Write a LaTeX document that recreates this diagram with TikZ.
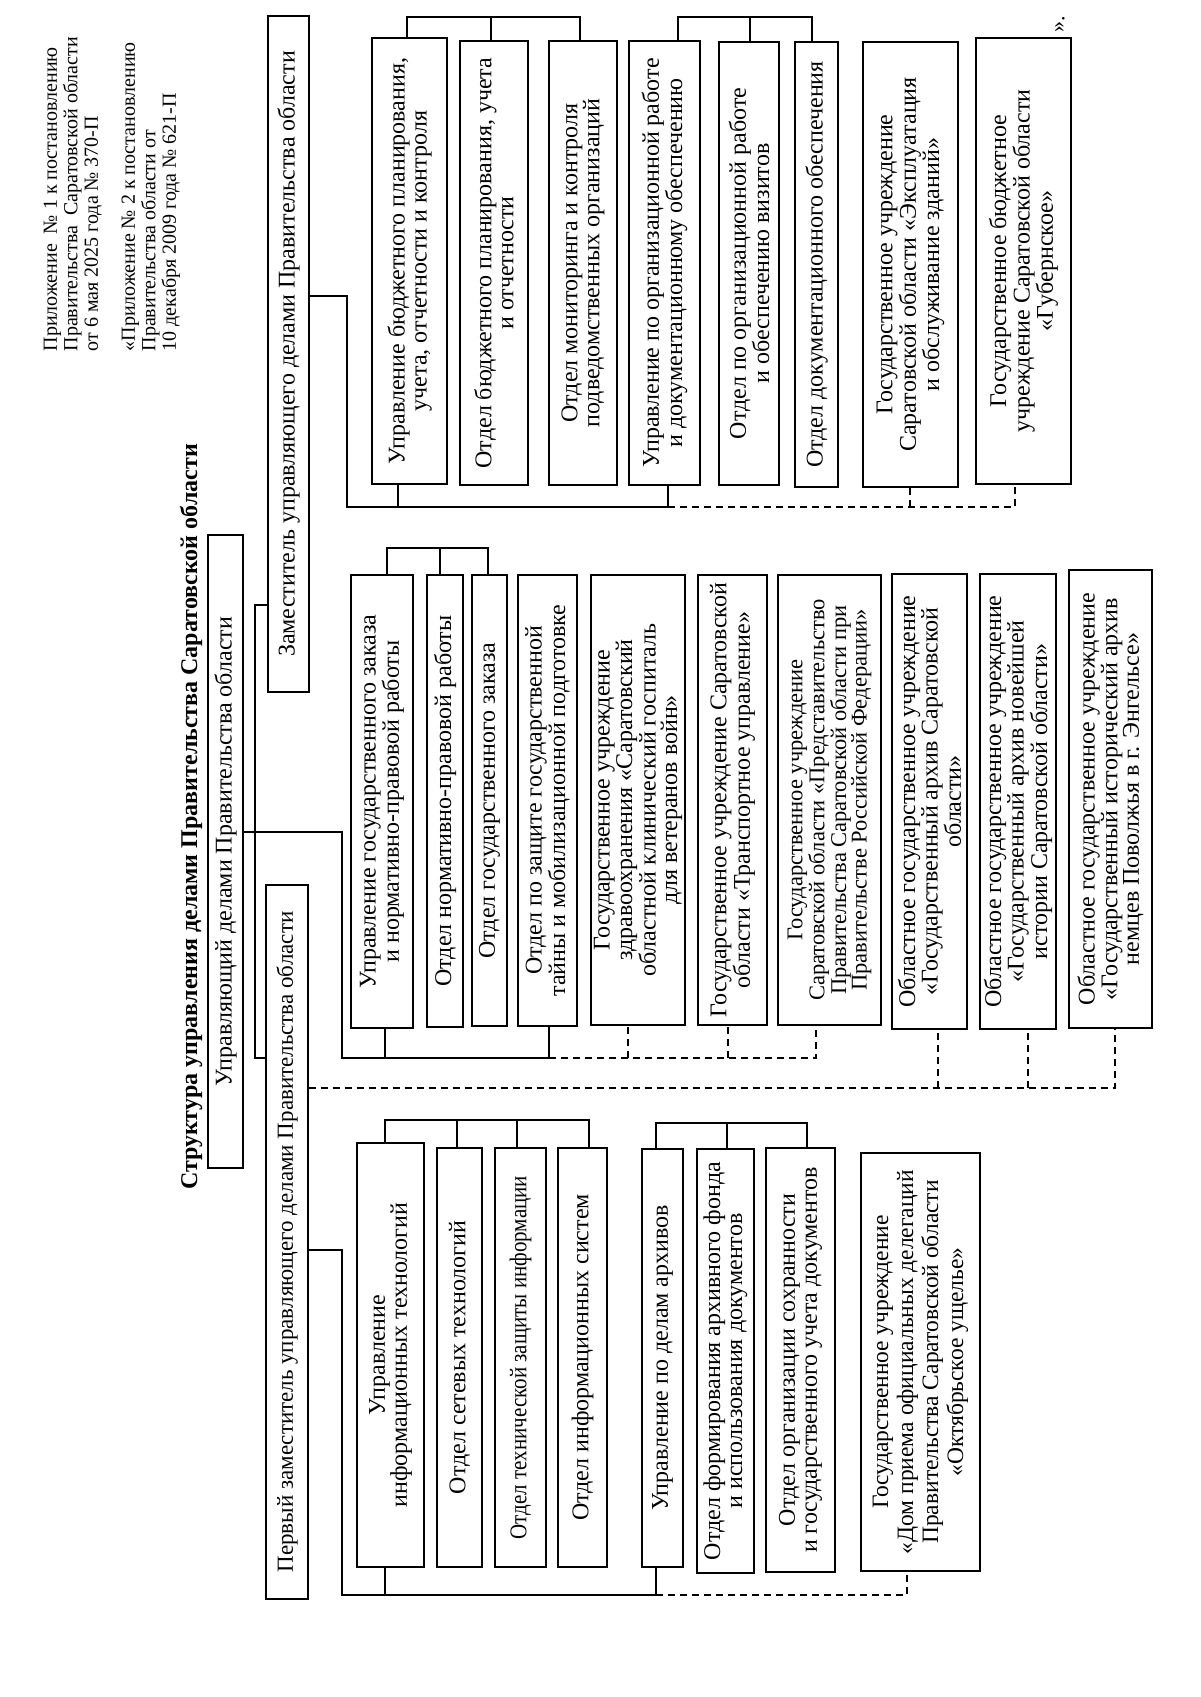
\documentclass[tikz,border=0pt]{standalone}
\usepackage{fontspec}
\setmainfont{Liberation Serif}
\newcommand\orgbox[7][]{\node[bx,#1,minimum width={(#6-#4)*1pt},minimum height={(#5-#3)*1pt}] (#2) at ({(#3+#5)/2},{(#4+#6)/2}) {#7};}
\newcommand\fs[2]{\fontsize{#1}{#2}\selectfont}
\begin{document}
\begin{tikzpicture}[x=1pt,y=-1pt,line width=1.3pt,
  bx/.style={draw,rotate=90,inner sep=0pt,align=center,font=\fs{24}{22}},
  hdr/.style={rotate=90,inner sep=0pt,align=left,anchor=north west,font=\fs{20}{20.5}},
  dsh/.style={dash pattern=on 7pt off 5pt}]
\useasboundingbox[fill=white] (0,0) rectangle (1200,1697);
% header
\node[hdr] (hd1) at (43,352) {Приложение\ \ № 1 к постановлению\\ Правительства\ \ Саратовской области\\ от 6 мая 2025 года № 370-П};
\node[hdr] (hd2) at (121,352) {«Приложение № 2 к постановлению\\ Правительства области от\\ 10 декабря 2009 года № 621-П};
\node[rotate=90,font=\bfseries\fs{24}{26}] (title) at (191,817) {Структура управления делами Правительства Саратовской области};
\node[rotate=90,inner sep=0pt,font=\fs{22}{22}] (endq) at (1060,24) {».};
% top level
\orgbox{U}{208}{535}{243}{1168}{Управляющий делами Правительства области}
\orgbox{Z}{268}{16}{309}{692}{Заместитель управляющего делами Правительства области}
\orgbox[font=\fs{23}{22}]{P}{266}{885}{308}{1599}{Первый заместитель управляющего делами Правительства области}
% right group
\orgbox{R1}{372}{38}{447}{484}{Управление бюджетного планирования,\\ учета, отчетности и контроля}
\orgbox{R2}{460}{41}{528}{485}{Отдел бюджетного планирования, учета\\ и отчетности}
\orgbox{R3}{549}{41}{617}{485}{Отдел мониторинга и контроля\\ подведомственных организаций}
\orgbox{R4}{629}{41}{700}{485}{Управление по организационной работе\\ и документационному обеспечению}
\orgbox{R5}{719}{42}{779}{485}{Отдел по организационной работе\\ и обеспечению визитов}
\orgbox{R6}{795}{42}{838}{487}{Отдел документационного обеспечения}
\orgbox{R7}{863}{42}{958}{487}{Государственное учреждение\\ Саратовской области «Эксплуатация\\ и обслуживание зданий»}
\orgbox{R8}{976}{38}{1071}{484}{Государственное бюджетное\\ учреждение Саратовской области\\ «Губернское»}
% middle group
\orgbox{M1}{351}{575}{413}{1028}{Управление государственного заказа\\ и нормативно-правовой работы}
\orgbox{M2}{427}{575}{463}{1027}{Отдел нормативно-правовой работы}
\orgbox{M3}{472}{575}{507}{1026}{Отдел государственного заказа}
\orgbox{M4}{518}{575}{577}{1026}{Отдел по защите государственной\\ тайны и мобилизационной подготовке}
\orgbox[font=\fs{24}{21.5}]{M5}{591}{575}{685}{1025}{Государственное учреждение\\ здравоохранения «Саратовский\\ областной клинический госпиталь\\ для ветеранов войн»}
\orgbox{M6}{698}{575}{767}{1025}{Государственное учреждение Саратовской\\ области «Транспортное управление»}
\orgbox[font=\fs{22.5}{20.5}]{M7}{778}{575}{881}{1025}{Государственное учреждение\\ Саратовской области «Представительство\\ Правительства Саратовской области при\\ Правительстве Российской Федерации»}
\orgbox[font=\fs{24}{21.5}]{M8}{892}{574}{967}{1029}{Областное государственное учреждение\\ «Государственный архив Саратовской\\ области»}
\orgbox[font=\fs{24}{21.5}]{M9}{980}{574}{1056}{1029}{Областное государственное учреждение\\ «Государственный архив новейшей\\ истории Саратовской области»}
\orgbox[font=\fs{24}{21.5}]{M10}{1069}{570}{1152}{1028}{Областное государственное учреждение\\ «Государственный исторический архив\\ немцев Поволжья в г. Энгельсе»}
% left group
\orgbox{A}{357}{1143}{424}{1567}{Управление\\ информационных технологий}
\orgbox{B}{437}{1148}{482}{1567}{Отдел сетевых технологий}
\orgbox{C}{495}{1148}{546}{1567}{\scalebox{0.875}[1]{Отдел технической защиты информации}}
\orgbox{D}{558}{1148}{607}{1567}{Отдел информационных систем}
\orgbox{E}{642}{1149}{683}{1567}{Управление по делам архивов}
\orgbox{F}{697}{1149}{754}{1573}{Отдел формирования архивного фонда\\ и использования документов}
\orgbox{G}{766}{1148}{835}{1572}{Отдел организации сохранности\\ и государственного учета документов}
\orgbox[font=\fs{23.5}{25}]{H}{861}{1153}{980}{1571}{Государственное учреждение\\ «Дом приема официальных делегаций\\ Правительства Саратовской области\\ «Октябрьское ущелье»}
% connectors: top level
\draw (U.south |- 0,832) -- (342,832) -- (342,1058) -- (549,1058) -- (549,0 |- M4.west);
\draw (Z.north |- 0,605) -- (255,605) -- (255,1058) -- (P.north |- 0,1058);
\draw (Z.south |- 0,296) -- (347,296) -- (347,507) -- (668,507) -- (668,0 |- R4.west);
\draw (P.south |- 0,1250) -- (342,1250) -- (342,1595) -- (656,1595) -- (656,0 |- E.west);
% right group
\draw (398,0 |- R1.west) -- (398,507);
\draw[dsh] (668,507) -- (1015,507) -- (1015,0 |- R8.west);
\draw[dsh] (910,507) -- (910,0 |- R7.west);
\draw (407,0 |- R1.east) -- (407,17) -- (580,17) -- (580,0 |- R3.east);
\draw (491,17) -- (491,0 |- R2.east);
\draw (678,0 |- R4.east) -- (678,17) -- (812,17) -- (812,0 |- R6.east);
\draw (750,17) -- (750,0 |- R5.east);
% middle group
\draw (385,0 |- M1.west) -- (385,1058);
\draw[dsh] (549,1058) -- (816,1058) -- (816,0 |- M7.west);
\draw[dsh] (628,1058) -- (628,0 |- M5.west);
\draw[dsh] (728,1058) -- (728,0 |- M6.west);
\draw (387,0 |- M1.east) -- (387,548) -- (488,548) -- (488,0 |- M3.east);
\draw (440,548) -- (440,0 |- M2.east);
\draw[dsh] (P.south |- 0,1088) -- (1115,1088) -- (1115,0 |- M10.west);
\draw[dsh] (938,1088) -- (938,0 |- M8.west);
\draw[dsh] (1028,1088) -- (1028,0 |- M9.west);
% left group
\draw (385,0 |- A.west) -- (385,1595);
\draw[dsh] (656,1595) -- (907,1595) -- (907,0 |- H.west);
\draw (385,0 |- A.east) -- (385,1120) -- (589,1120) -- (589,0 |- D.east);
\draw (457,1120) -- (457,0 |- B.east);
\draw (517,1120) -- (517,0 |- C.east);
\draw (656,0 |- E.east) -- (656,1123) -- (807,1123) -- (807,0 |- G.east);
\draw (727,1123) -- (727,0 |- F.east);
\end{tikzpicture}
\end{document}
